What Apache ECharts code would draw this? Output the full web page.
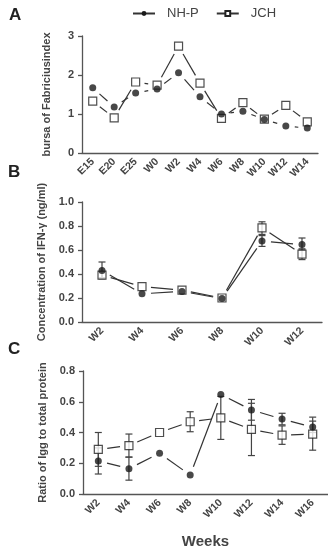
<!DOCTYPE html>
<html>
<head>
<meta charset="utf-8">
<script src="https://cdn.jsdelivr.net/npm/echarts@6/dist/echarts.min.js"></script>
<style>
  html, body { margin: 0; padding: 0; background: #fff; }
  #chart { width: 328px; height: 551px; }
</style>
</head>
<body>
<div id="chart"></div>
<script>
// panel A - bursa index
var catsA = ['E15', 'E20', 'E25', 'W0', 'W2', 'W4', 'W6', 'W8', 'W10', 'W12', 'W14'];
var nhpA = [1.67, 1.18, 1.54, 1.64, 2.06, 1.44, 1.00, 1.07, 0.86, 0.69, 0.64];
var jchA = [1.33, 0.90, 1.82, 1.74, 2.74, 1.79, 0.89, 1.29, 0.87, 1.22, 0.80];

// panel B - IFN-gamma
var catsB = ['W2', 'W4', 'W6', 'W8', 'W10', 'W12'];
var nhpB = [0.43, 0.235, 0.255, 0.195, 0.675, 0.645];
var nhpBLow = [0.37, null, null, null, 0.63, 0.60];
var nhpBHigh = [0.50, null, null, null, 0.72, 0.70];
var jchB = [0.39, 0.295, 0.265, 0.20, 0.785, 0.565];
var jchBLow = [0.36, null, null, null, 0.73, 0.52];
var jchBHigh = [0.42, null, null, null, 0.835, 0.61];

// panel C - IgG ratio
var catsC = ['W2', 'W4', 'W6', 'W8', 'W10', 'W12', 'W14', 'W16'];
var nhpC = [0.215, 0.165, 0.265, 0.123, 0.647, 0.547, 0.487, 0.435];
var nhpCLow = [0.13, 0.09, null, null, null, 0.48, 0.45, 0.40];
var nhpCHigh = [0.30, 0.24, null, null, null, 0.615, 0.525, 0.474];
var jchC = [0.29, 0.315, 0.40, 0.47, 0.495, 0.42, 0.383, 0.39];
var jchCLow = [0.18, 0.24, null, 0.405, 0.355, 0.25, 0.323, 0.285];
var jchCHigh = [0.40, 0.39, null, 0.535, 0.635, 0.59, 0.443, 0.50];

var ink = '#333';
var fontFam = 'Liberation Sans, Arial, sans-serif';

function segments(vals) {
    var out = [];
    for (var i = 0; i < vals.length - 1; i++) {
        out.push([i, vals[i], i + 1, vals[i + 1]]);
    }
    return out;
}

function errData(lo, hi) {
    var out = [];
    for (var i = 0; i < lo.length; i++) {
        if (lo[i] != null) out.push([i, lo[i], hi[i]]);
    }
    return out;
}

// line pieces that stop short of the symbols (GraphPad look)
function gapLine(params, api) {
    var p1 = api.coord([api.value(0), api.value(1)]);
    var p2 = api.coord([api.value(2), api.value(3)]);
    var dx = p2[0] - p1[0], dy = p2[1] - p1[1];
    var len = Math.sqrt(dx * dx + dy * dy);
    var gap = 9;
    if (len < gap * 2 + 2) return null;
    var ux = dx / len, uy = dy / len;
    return {
        type: 'line',
        shape: { x1: p1[0] + ux * gap, y1: p1[1] + uy * gap, x2: p2[0] - ux * gap, y2: p2[1] - uy * gap },
        style: { stroke: ink, lineWidth: 1.2 }
    };
}

function errBar(params, api) {
    var x = api.value(0);
    var a = api.coord([x, api.value(1)]);
    var b = api.coord([x, api.value(2)]);
    var w = 3.5;
    var st = { stroke: '#444', lineWidth: 1.2 };
    return {
        type: 'group',
        children: [
            { type: 'line', shape: { x1: a[0], y1: a[1], x2: b[0], y2: b[1] }, style: st },
            { type: 'line', shape: { x1: a[0] - w, y1: a[1], x2: a[0] + w, y2: a[1] }, style: st },
            { type: 'line', shape: { x1: b[0] - w, y1: b[1], x2: b[0] + w, y2: b[1] }, style: st }
        ]
    };
}

function xAx(idx, cats, name) {
    return {
        type: 'category', gridIndex: idx, data: cats, boundaryGap: true,
        axisLine: { lineStyle: { color: '#555', width: 1.3 } },
        axisTick: { alignWithLabel: true, length: 5, lineStyle: { color: '#555', width: 1.3 } },
        axisLabel: { rotate: 45, fontSize: 10.5, fontWeight: 'bold', color: '#444', fontFamily: fontFam, margin: 7 },
        name: name || '', nameLocation: 'middle', nameGap: 40,
        nameTextStyle: { fontSize: 15, fontWeight: 'bold', color: '#444', fontFamily: fontFam }
    };
}

function yAx(idx, max, interval, name, digits, gap) {
    return {
        type: 'value', gridIndex: idx, min: 0, max: max, interval: interval,
        splitLine: { show: false },
        axisLine: { show: true, lineStyle: { color: '#555', width: 1.3 } },
        axisTick: { show: true, length: 4, lineStyle: { color: '#555', width: 1.3 } },
        axisLabel: {
            fontSize: 11, fontWeight: 'bold', color: '#444', fontFamily: fontFam, margin: 8,
            formatter: function (v) { return v.toFixed(digits); }
        },
        name: name, nameLocation: 'middle', nameGap: gap,
        nameTextStyle: { fontSize: 11, color: '#444', fontFamily: fontFam, fontWeight: 'bold' }
    };
}

function panelSeries(idx, nhp, jch, nLo, nHi, jLo, jHi) {
    var s = [
        { type: 'custom', xAxisIndex: idx, yAxisIndex: idx, renderItem: gapLine, data: segments(nhp), z: 2, silent: true },
        { type: 'custom', xAxisIndex: idx, yAxisIndex: idx, renderItem: gapLine, data: segments(jch), z: 2, silent: true }
    ];
    if (nLo) {
        s.push({ type: 'custom', xAxisIndex: idx, yAxisIndex: idx, renderItem: errBar, data: errData(jLo, jHi), z: 3, silent: true });
        s.push({ type: 'custom', xAxisIndex: idx, yAxisIndex: idx, renderItem: errBar, data: errData(nLo, nHi), z: 3, silent: true });
    }
    s.push({
        name: 'jch-' + idx, type: 'scatter', xAxisIndex: idx, yAxisIndex: idx, data: jch,
        symbol: 'rect', symbolSize: 8, z: 4,
        itemStyle: { color: '#fff', borderColor: '#222', borderWidth: 1.2 }
    });
    s.push({
        name: 'nhp-' + idx, type: 'scatter', xAxisIndex: idx, yAxisIndex: idx, data: nhp,
        symbol: 'circle', symbolSize: 7, z: 5,
        itemStyle: { color: '#1a1a1a' }
    });
    return s;
}

var myChart = echarts.init(document.getElementById('chart'));

var series = [
    // legend-only entries
    { name: 'NH-P', type: 'line', data: [], symbol: 'circle', lineStyle: { color: ink, width: 1.3 }, itemStyle: { color: '#1a1a1a' } },
    { name: 'JCH', type: 'line', data: [], symbol: 'rect', lineStyle: { color: ink, width: 1.3 }, itemStyle: { color: '#fff', borderColor: '#222', borderWidth: 1 } }
];
series = series.concat(panelSeries(0, nhpA, jchA));
series = series.concat(panelSeries(1, nhpB, jchB, nhpBLow, nhpBHigh, jchBLow, jchBHigh));
series = series.concat(panelSeries(2, nhpC, jchC, nhpCLow, nhpCHigh, jchCLow, jchCHigh));

var letterStyle = { fontSize: 17, fontWeight: 'bold', color: '#222', fontFamily: fontFam };

var option = {
    animation: false,
    backgroundColor: '#fff',
    title: [
        { text: 'A', left: 9, top: 7, padding: 0, textStyle: letterStyle },
        { text: 'B', left: 8, top: 164, padding: 0, textStyle: letterStyle },
        { text: 'C', left: 8, top: 341, padding: 0, textStyle: letterStyle }
    ],
    legend: {
        data: ['NH-P', 'JCH'],
        left: 132, top: 7, padding: 0,
        itemWidth: 22, itemHeight: 6, itemGap: 17,
        textStyle: { fontSize: 13, color: '#444', fontFamily: fontFam, padding: [0, 0, 0, 7] }
    },
    grid: [
        { left: 82, top: 36, width: 236, height: 117 },
        { left: 82, top: 202, width: 240, height: 120 },
        { left: 83, top: 371, width: 245, height: 123 }
    ],
    xAxis: [xAx(0, catsA), xAx(1, catsB), xAx(2, catsC, 'Weeks')],
    yAxis: [
        yAx(0, 3, 1, 'bursa of Fabriciusindex', 0, 30),
        yAx(1, 1, 0.2, 'Concentration of IFN-\u03b3 (ng/ml)', 1, 33),
        yAx(2, 0.8, 0.2, 'Ratio of Igg to total protein', 1, 31)
    ],
    series: series
};

myChart.setOption(option);
</script>
</body>
</html>
